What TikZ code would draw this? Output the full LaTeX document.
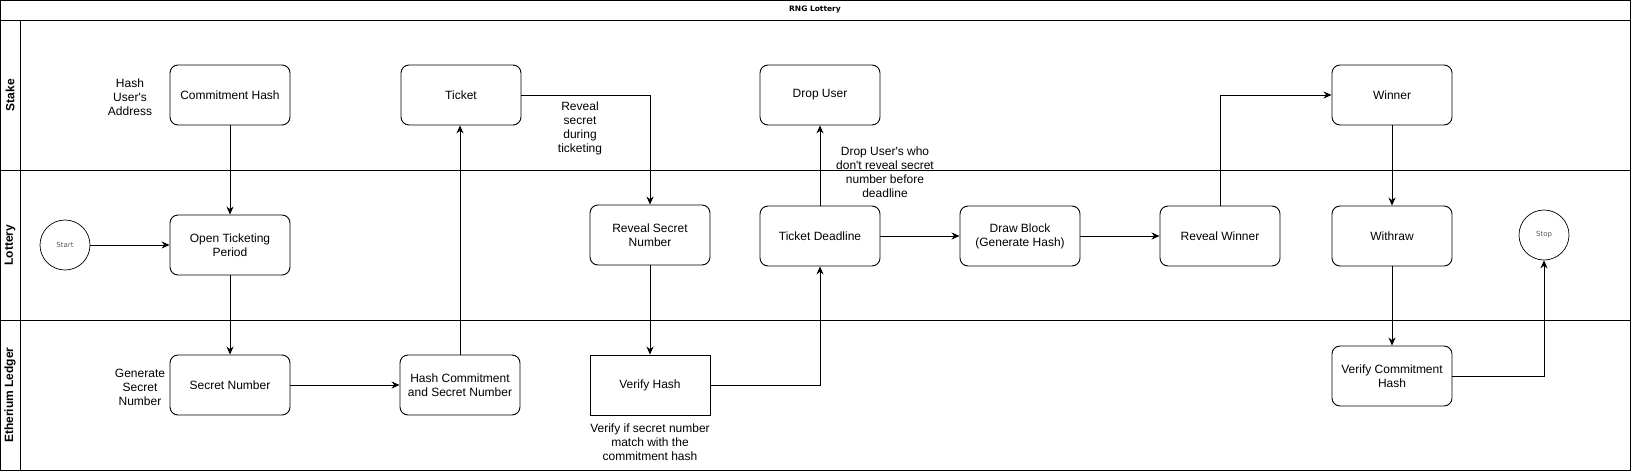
\documentclass[tikz,border=0pt]{standalone}
\usepackage{fontspec}
\setmainfont{Liberation Sans}
\newfontfamily\tinyfont{DejaVu Sans}
\usetikzlibrary{arrows.meta,shapes.misc,shapes.geometric}
\begin{document}
\begin{tikzpicture}[x=1pt,y=-1pt,
    box/.style={draw,rounded corners=8pt,line width=0.9pt,minimum width=120pt,minimum height=60pt,align=center,font=\fontsize{12}{14}\selectfont},
    sqbox/.style={draw,line width=0.9pt,minimum width=120pt,minimum height=60pt,align=center,font=\fontsize{12}{14}\selectfont},
    ev/.style={circle,draw,line width=0.7pt,minimum size=50pt,inner sep=0pt,text=black!65,font=\tinyfont\fontsize{7}{8}\selectfont},
    note/.style={align=center,font=\fontsize{12}{14}\selectfont},
    lanelabel/.style={rotate=90,font=\bfseries\fontsize{12}{14}\selectfont},
    flow/.style={line width=0.9pt,-{Stealth[length=8pt,width=7pt]}}]
                \useasboundingbox (0,0) rectangle (1633,472);
                % pool and lanes
                \draw[line width=1pt] (0.5,0.5) rectangle (1630,470);
                \draw[line width=1pt] (0.5,20) -- (1630,20);
                \draw[line width=1pt] (0.5,170) -- (1630,170);
                \draw[line width=1pt] (0.5,320) -- (1630,320);
                \draw[line width=1pt] (20,20) -- (20,470);
                \node[font=\tinyfont\bfseries\fontsize{7.5}{9}\selectfont] (title) at (815,10) {RNG Lottery};
                \node[lanelabel] (stake) at (10,95) {Stake};
                \node[lanelabel] (lottery) at (10,245) {Lottery};
                \node[lanelabel] (ledger) at (10,395) {Etherium Ledger};

                % Stake
                \node[box] (ch) at (230,95) {Commitment Hash};
                \node[box] (tk) at (461,95) {Ticket};
                \node[box] (du) at (820,95) {Drop User};
                \node[box] (win) at (1392,95) {Winner};

                % Lottery
                \node[ev] (start) at (65,245) {Start};
                \node[box] (otp) at (230,245) {Open Ticketing\\Period};
                \node[box] (rsn) at (650,235) {Reveal Secret\\Number};
                \node[box] (td) at (820,236) {Ticket Deadline};
                \node[box] (db) at (1020,236) {Draw Block\\(Generate Hash)};
                \node[box] (rw) at (1220,236) {Reveal Winner};
                \node[box] (wd) at (1392,236) {Withraw};
                \node[ev] (stop) at (1544,235) {Stop};

                % Etherium Ledger
                \node[box] (sn) at (230,385) {Secret Number};
                \node[box] (hc) at (460,385) {Hash Commitment\\and Secret Number};
                \node[sqbox] (vh) at (650,385) {Verify Hash};
                \node[box] (vch) at (1392,376) {Verify Commitment\\Hash};

                % notes
                \node[note] (hua) at (130,97) {Hash\\User\textquotesingle s\\Address};
                \node[note] (gsn) at (140,387) {Generate\\Secret\\Number};
                \node[note] (rsd) at (580,128) {Reveal\\secret\\during\\ticketing};
                \node[note] (dnote) at (885,172) {Drop User\textquotesingle s who\\don\textquotesingle t reveal secret\\number before\\deadline};
                \node[note] (vnote) at (650,442) {Verify if secret number\\match with the\\commitment hash};

                % flow
                \draw[flow] (start) -- (otp);
                \draw[flow] (ch) -- (otp);
                \draw[flow] (otp) -- (sn);
                \draw[flow] (sn) -- (hc);
                \draw[flow] (hc) -- (hc|-tk.south);
                \draw[flow] (tk) -| (rsn);
                \draw[flow] (rsn) -- (vh);
                \draw[flow] (vh) -| (td);
                \draw[flow] (td) -- (du);
                \draw[flow] (td) -- (db);
                \draw[flow] (db) -- (rw);
                \draw[flow] (rw) |- (win);
                \draw[flow] (win) -- (wd);
                \draw[flow] (wd) -- (vch);
                \draw[flow] (vch) -| (stop);
              \end{tikzpicture}
\end{document}
